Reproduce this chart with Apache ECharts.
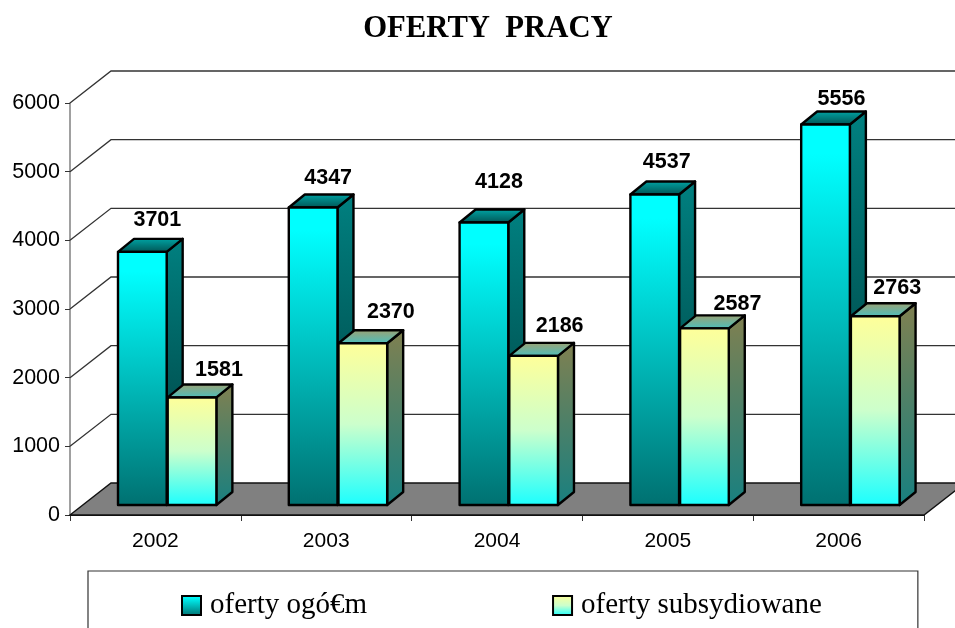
<!DOCTYPE html>
<html>
<head>
<meta charset="utf-8">
<style>html,body{margin:0;padding:0;background:#fff;overflow:hidden}#c{width:955px;height:628px}</style>
<script src="https://cdn.jsdelivr.net/npm/echarts@6/dist/echarts.min.js"></script>
</head>
<body>
<div id="c"></div>
<script>
var titleText = 'OFERTY  PRACY';
var categories = ['2002', '2003', '2004', '2005', '2006'];
var ofertyOgolem = [3701, 4347, 4128, 4537, 5556];
var ofertySubsydiowane = [1581, 2370, 2186, 2587, 2763];
var yTicks = [0, 1000, 2000, 3000, 4000, 5000, 6000];
var seriesNames = ['oferty ogó€m', 'oferty subsydiowane'];

// layout constants (pixels)
var WALL_DX = 41, WALL_DY = -32;
var BAR_SHIFT_Y = -10, BAR_TOP_EXTRA = 1, BAR_DX = 16, BAR_DY = -13;
var labelNudgeA = [[1,-2],[1,1],[1,-10],[-2,-2],[2,5]];
var labelNudgeB = [[13,3],[14,-1],[12,0],[19,6],[8,2]];

function grad(stops) {
  return {type:'linear',x:0,y:0,x2:0,y2:1,colorStops:stops.map(function(s){return {offset:s[0],color:s[1]};})};
}
var palette = [
  {front:grad([[0,'#00ffff'],[0.08,'#00ffff'],[1,'#007070']]), side:grad([[0,'#008080'],[1,'#003a3a']]), top:grad([[0,'#00a8a8'],[1,'#005050']]), border:'#000'},
  {front:grad([[0,'#ffff99'],[0.5,'#ccffcc'],[1,'#1affff']]), side:grad([[0,'#808050'],[1,'#188080']]), top:grad([[0,'#a0a070'],[1,'#48c0c0']]), border:'#000'}
];

function wallItem(params, api) {
  var v = api.value(0);
  var cs = params.coordSys;
  var p = api.coord([0, v]);
  var y = p[1], x0 = cs.x, x1 = cs.x + cs.width;
  var els = [];
  if (v === 0) {
    els.push({type:'polygon',shape:{points:[[x0,y],[x1,y],[x1+WALL_DX,y+WALL_DY],[x0+WALL_DX,y+WALL_DY]]},
      style:{fill:'#808080',stroke:'#111',lineWidth:1.4}});
  } else {
    els.push({type:'polyline',shape:{points:[[x0,y],[x0+WALL_DX,y+WALL_DY],[x1+WALL_DX,y+WALL_DY]]},
      style:{fill:null,stroke:'#333',lineWidth:1.3}});
  }
  return {type:'group',children:els};
}

function barRenderer(seriesIdx, nudges) {
  return function (params, api) {
    var cat = api.value(0), val = api.value(1);
    var band = api.size([1, 0])[0];
    var c = api.coord([cat, val]), b = api.coord([cat, 0]);
    var w = band * 0.285;
    var left = c[0] - band * 0.219 + seriesIdx * (band * 0.291);
    var right = left + w;
    var top = c[1] + BAR_SHIFT_Y + BAR_TOP_EXTRA, bot = b[1] + BAR_SHIFT_Y;
    var pal = palette[seriesIdx];
    var st = {stroke:pal.border,lineWidth:2.4,lineJoin:'round'};
    var n = nudges[params.dataIndex];
    return {type:'group',children:[
      {type:'polygon',shape:{points:[[right,top],[right+BAR_DX,top+BAR_DY],[right+BAR_DX,bot+BAR_DY],[right,bot]]},
        style:Object.assign({fill:pal.side},st)},
      {type:'polygon',shape:{points:[[left,top],[left+BAR_DX,top+BAR_DY],[right+BAR_DX,top+BAR_DY],[right,top]]},
        style:Object.assign({fill:pal.top},st)},
      {type:'rect',shape:{x:left,y:top,width:w,height:bot-top},
        style:Object.assign({fill:pal.front},st)},
      {type:'text',x:(left+right)/2+14+n[0],y:top-30+n[1],
        style:{text:String(val),fontFamily:'Liberation Sans',fontWeight:'bold',fontSize:21.5,
          fill:'#000',align:'center',verticalAlign:'middle'}}
    ]};
  };
}

var chart = echarts.init(document.getElementById('c'), null, {renderer:'canvas'});
chart.setOption({
  animation:false,
  backgroundColor:'#fff',
  title:{text:titleText,left:483,top:9,textAlign:'center',
    textStyle:{fontFamily:'Liberation Serif',fontWeight:'bold',fontSize:30.7,color:'#000'}},
  legend:{
    left:88,top:571,
    orient:'horizontal',
    padding:[20,96,60,93],
    borderColor:'#333',borderWidth:1.2,
    itemWidth:19,itemHeight:19,itemGap:185,
    data:seriesNames.map(function(n,i){return {name:n,icon:'rect',
      itemStyle:{color:palette[i].front,borderColor:'#000',borderWidth:2}};}),
    textStyle:{fontFamily:'Liberation Serif',fontSize:29,color:'#000',padding:[0,0,0,4]}
  },
  grid:{left:70,right:31,top:103,bottom:113,containLabel:false},
  xAxis:{type:'category',data:categories,
    axisLine:{lineStyle:{color:'#111',width:1.2}},
    axisTick:{show:true,length:6,alignWithLabel:false,lineStyle:{color:'#333'}},
    axisLabel:{margin:16,fontFamily:'Liberation Sans',fontSize:21,color:'#000'}},
  yAxis:{type:'value',min:0,max:6000,interval:1000,
    axisLine:{show:true,lineStyle:{color:'#808080',width:1.5}},
    axisTick:{show:true,length:5,lineStyle:{color:'#333'}},
    splitLine:{show:false},
    axisLabel:{margin:10,fontFamily:'Liberation Sans',fontSize:21.5,color:'#000',formatter:function(v){return String(v);}}},
  series:[
    {type:'custom',name:'wall',silent:true,z:1,renderItem:wallItem,
      data:yTicks.map(function(v){return [v];}),encode:{y:0}},
    {type:'custom',name:seriesNames[0],z:2,renderItem:barRenderer(0,labelNudgeA),
      itemStyle:{color:palette[0].front},
      data:ofertyOgolem.map(function(v,i){return [i,v];}),encode:{x:0,y:1}},
    {type:'custom',name:seriesNames[1],z:3,renderItem:barRenderer(1,labelNudgeB),
      itemStyle:{color:palette[1].front},
      data:ofertySubsydiowane.map(function(v,i){return [i,v];}),encode:{x:0,y:1}}
  ]
});
</script>
</body>
</html>
